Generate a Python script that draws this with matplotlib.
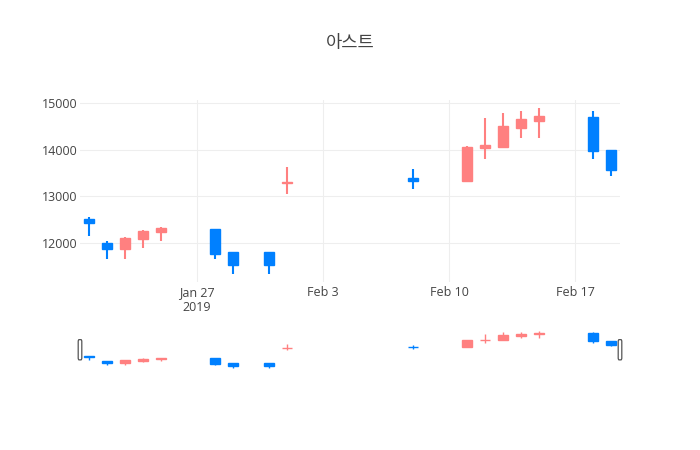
import matplotlib
matplotlib.use('Agg')
import matplotlib.pyplot as plt
import matplotlib.dates as mdates
from matplotlib.patches import Rectangle, FancyBboxPatch
from matplotlib.transforms import blended_transform_factory
import datetime as dt

# daily prices
dates = ['2019-01-21', '2019-01-22', '2019-01-23', '2019-01-24', '2019-01-25',
         '2019-01-28', '2019-01-29', '2019-01-31', '2019-02-01', '2019-02-08',
         '2019-02-11', '2019-02-12', '2019-02-13', '2019-02-14', '2019-02-15',
         '2019-02-18', '2019-02-19']
opens = [12500, 12000, 11870, 12070, 12230, 12300, 11800, 11800, 13290, 13400,
         13330, 14030, 14060, 14470, 14620, 14700, 14000]
highs = [12540, 12040, 12110, 12280, 12340, 12300, 11800, 11800, 13630, 13580,
         14070, 14680, 14790, 14840, 14890, 14840, 14000]
lows = [12140, 11640, 11640, 11880, 12040, 11640, 11330, 11330, 13040, 13150,
        13330, 13790, 14040, 14240, 14240, 13790, 13440]
closes = [12420, 11870, 12100, 12250, 12310, 11760, 11520, 11520, 13300, 13330,
          14050, 14100, 14500, 14650, 14720, 13960, 13570]

tick_dates = ['2019-01-27', '2019-02-03', '2019-02-10', '2019-02-17']
tick_labels = ['Jan 27\n2019', 'Feb 3', 'Feb 10', 'Feb 17']
title = '아스트'

up_color = '#ff8080'
down_color = '#0080ff'
grid_color = '#eeeeee'
text_color = '#444444'

plt.rcParams['font.family'] = ['Open Sans', 'DejaVu Sans']

x = [mdates.date2num(dt.datetime.strptime(d, '%Y-%m-%d')) for d in dates]
xt = [mdates.date2num(dt.datetime.strptime(d, '%Y-%m-%d')) for d in tick_dates]
xmin, xmax = x[0] - 0.5, x[-1] + 0.5
span = max(highs) - min(lows)
ymin, ymax = min(lows) - 0.05 * span, max(highs) + 0.05 * span

W, H = 700, 450
fig = plt.figure(figsize=(7, 4.5), dpi=100)
ax = fig.add_axes([80 / W, (H - 282) / H, 540 / W, 182 / H])
sl = fig.add_axes([80 / W, 80 / H, 540 / W, 40.5 / H])


def draw_candles(a, box_w, wick_lw):
    for xi, o, h, l, c in zip(x, opens, highs, lows, closes):
        col = up_color if c >= o else down_color
        a.plot([xi, xi], [l, h], color=col, lw=wick_lw, solid_capstyle='butt', zorder=2)
        bottom = min(o, c)
        height = max(abs(c - o), span * 0.004)
        a.add_patch(Rectangle((xi - box_w / 2, bottom), box_w, height,
                              facecolor=col, edgecolor=col, lw=1, zorder=3))


draw_candles(ax, 0.56, 1.5)
ax.set_xlim(xmin, xmax)
ax.set_ylim(ymin, ymax)
ax.set_xticks(xt)
ax.set_xticklabels(tick_labels)
ax.set_yticks([12000, 13000, 14000, 15000])
ax.set_yticklabels(['12000', '13000', '14000', '15000'])
ax.grid(True, color=grid_color, lw=0.75)
ax.set_axisbelow(True)
for s in ax.spines.values():
    s.set_visible(False)
ax.tick_params(length=0, labelsize=9, colors=text_color)
ax.tick_params(axis='y', pad=2)
ax.tick_params(axis='x', pad=3)

draw_candles(sl, 0.56, 1.0)
sl.set_xlim(xmin, xmax)
sl.set_ylim(ymin, ymax)
sl.set_xticks([])
sl.set_yticks([])
for s in sl.spines.values():
    s.set_visible(False)

# range slider grab handles
tr = blended_transform_factory(sl.transData, sl.transAxes)
for xe in (xmin, xmax):
    sl.add_patch(FancyBboxPatch((xe - 0.1, 0.25), 0.2, 0.5, transform=tr,
                                boxstyle='round,pad=0,rounding_size=0.05',
                                facecolor='white', edgecolor='#555555', lw=0.9,
                                clip_on=False, zorder=5))

fig.text(0.5, 1 - 43 / H, title, ha='center', va='center', fontsize=12.75,
         color=text_color, family=['Noto Sans CJK KR', 'DejaVu Sans'])

fig.savefig('out.png', dpi=100)
